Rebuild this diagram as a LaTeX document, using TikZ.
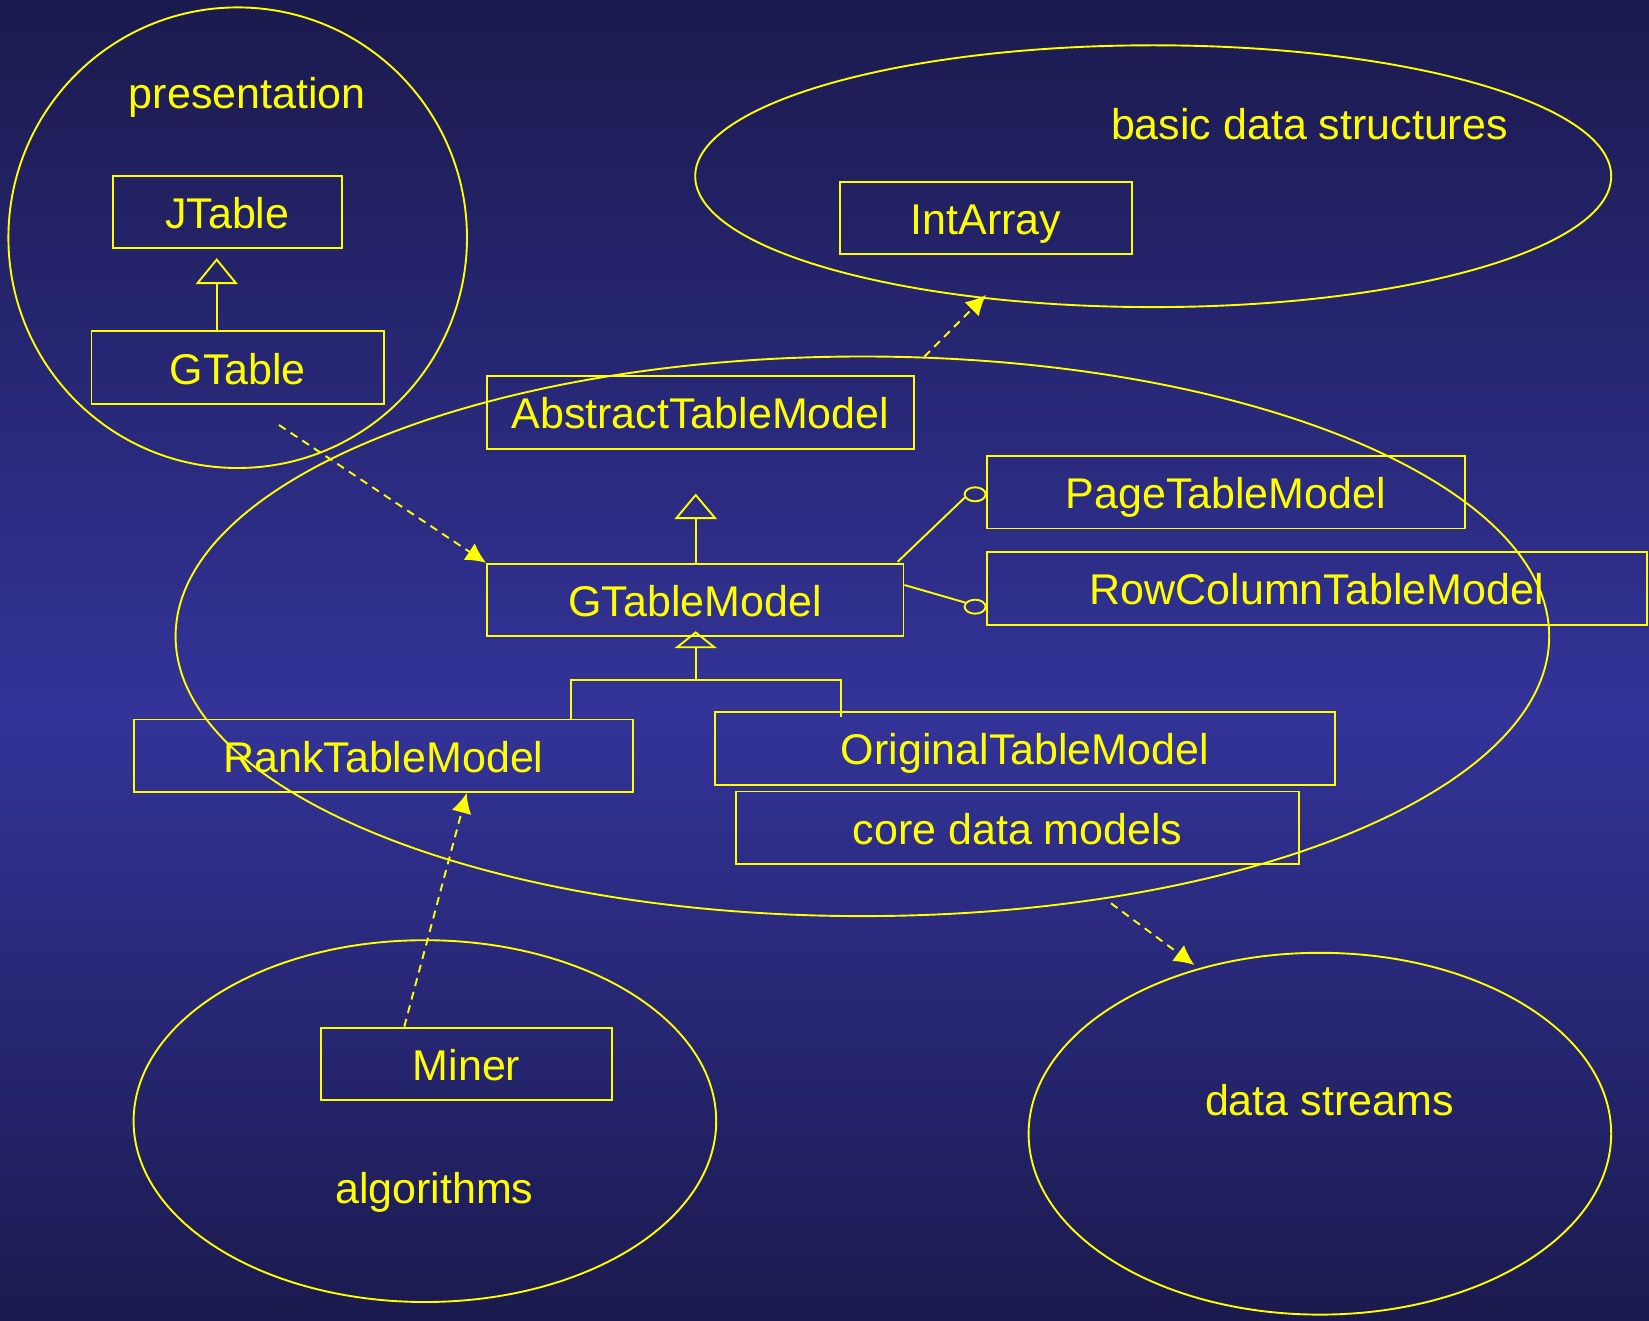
\documentclass[tikz,border=0pt]{standalone}
\usepackage{fontspec}
\setmainfont{Liberation Sans}
\usetikzlibrary{shapes.geometric,arrows.meta,calc}
\definecolor{bgdark}{HTML}{1B1A4E}
\definecolor{bgmid}{HTML}{333399}
\definecolor{ylw}{HTML}{FFFF00}
\begin{document}
\begin{tikzpicture}[x=1pt,y=-1pt,
  every node/.style={font=\fontsize{43}{50}\selectfont, text=ylw, text height=33pt, text depth=0pt},
  cls/.style={draw=ylw, line width=1.9pt, rectangle, minimum height=72.5pt, inner sep=0pt},
  pkg/.style={draw=ylw, line width=1.9pt, ellipse, inner sep=0pt},
  ln/.style={draw=ylw, line width=1.9pt},
  dep/.style={ln, dash pattern=on 8pt off 6pt, -{Latex[length=20pt,width=20pt]}},
  inh/.style={ln, -{Triangle[open,length=26pt,width=42pt]}},
]
\useasboundingbox (0,0) rectangle (1649,1321);
% background
\fill[top color=bgdark, bottom color=bgmid] (0,0) rectangle (1649,716);
\fill[top color=bgmid, bottom color=bgdark] (0,715) rectangle (1649,1321);

% packages
\node[pkg, minimum width=458.6pt, minimum height=460.6pt] (presE) at (237.7,237.7) {};
\node[pkg, minimum width=916pt, minimum height=261.8pt] (basicE) at (1153.2,176.2) {};
\node[pkg, minimum width=1373.6pt, minimum height=559.6pt] (coreE) at (862.4,636.3) {};
\node[pkg, minimum width=582.6pt, minimum height=361.8pt] (algE) at (424.9,1121.1) {};
\node[pkg, minimum width=582.6pt, minimum height=361.8pt] (strE) at (1319.9,1133.7) {};

\node (presL) at (247.2,92.3) {presentation};
\node (basicL) at (1309.4,123.2) {basic data structures};
\node (algL) at (434.3,1187.2) {algorithms};
\node (strL) at (1329.3,1099.2) {data streams};

% classes
\node[cls, minimum width=229.3pt] (JTable) at (227.2,211.9) {JTable};
\node[cls, minimum width=292.4pt] (GTable) at (237.7,367.6) {GTable};
\node[cls, minimum width=291.3pt] (IntArray) at (986,218.2) {IntArray};
\node[cls, minimum width=427pt] (ATM) at (700.4,412.3) {AbstractTableModel};
\node[cls, minimum width=478.5pt] (PTM) at (1225.8,492.2) {PageTableModel};
\node[cls, minimum width=416.5pt] (GTM) at (695.2,600) {GTableModel};
\node[cls, minimum width=660.5pt] (RCTM) at (1316.8,588.4) {RowColumnTableModel};
\node[cls, minimum width=499.5pt] (RTM) at (383.4,755.7) {RankTableModel};
\node[cls, minimum width=619.4pt] (OTM) at (1024.9,748.3) {OriginalTableModel};
\node[cls, minimum width=562.7pt] (CDM) at (1017.6,827.7) {core data models};
\node[cls, minimum width=291.3pt] (Miner) at (466.5,1063.8) {Miner};

% inheritance
\coordinate (jx) at (216.7,0);
\draw[inh] (GTable.north -| jx) -- ($(JTable.south -| jx)+(0,9)$);
\coordinate (gx) at (695.7,0);
\draw[inh, -{Triangle[open,length=25.6pt,width=42.4pt]}] (GTM.north -| gx) -- ($(ATM.south -| gx)+(0,44)$);
\coordinate (bar) at (695.7,680);
\draw[ln, -{Triangle[open,length=17pt,width=42.4pt]}] (bar) -- ($(GTM.south -| gx)+(0,-6)$);
\coordinate (lx) at (570.7,0);
\coordinate (rx) at (841,0);
\draw[ln] (RTM.north -| lx) |- (bar) -| ($(OTM.north -| rx)+(0,6)$);

% interface (lollipop) connectors
\coordinate (c1) at ($(PTM.west)+(-10.5,2.1)$);
\draw[ln] (c1) ellipse [x radius=10.5, y radius=7];
\draw[ln] ($(GTM.north east)+(-6.8,-1)$) -- ($(c1)+(-9.5,2.5)$);
\coordinate (c2) at ($(RCTM.west)+(-10.5,18.3)$);
\draw[ln] (c2) ellipse [x radius=10.5, y radius=7];
\draw[ln] ($(GTM.east)+(0,-15)$) -- ($(c2)+(-9.4,-4)$);

% dependencies
\coordinate (d1s) at ($(GTable.south)+(41.3,20.2)$);
\draw[dep] (d1s) -- (GTM.north west);
\coordinate (coreTop) at (924.3,356.7);
\coordinate (basicBot) at (986,295);
\draw[dep] (coreTop) -- (basicBot);
\draw[dep] ($(Miner.north)+(-62.2,0)$) -- ($(RTM.south)+(83.3,0)$);
\coordinate (coreBot) at (1111,903.3);
\coordinate (strTop) at (1194.3,965);
\draw[dep] (coreBot) -- (strTop);
\end{tikzpicture}
\end{document}
